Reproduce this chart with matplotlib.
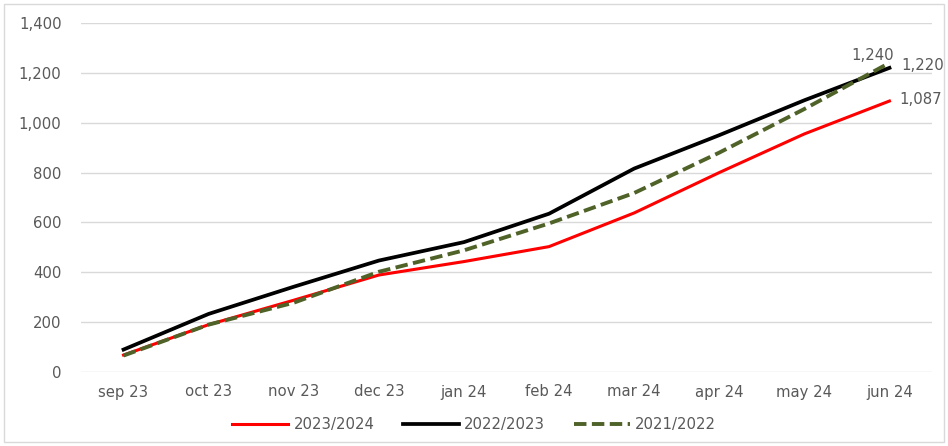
import matplotlib
matplotlib.use("Agg")
import matplotlib.pyplot as plt
from matplotlib.ticker import FuncFormatter, MultipleLocator
from matplotlib.patches import Rectangle

months = ["sep 23", "oct 23", "nov 23", "dec 23", "jan 24", "feb 24",
          "mar 24", "apr 24", "may 24", "jun 24"]
s2023_2024 = [68, 190, 288, 389, 443, 503, 638, 800, 955, 1087]
s2022_2023 = [90, 233, 342, 447, 521, 635, 816, 950, 1090, 1220]
s2021_2022 = [66, 190, 278, 402, 488, 596, 718, 880, 1055, 1240]

plt.rcParams['font.family'] = ['DejaVu Sans']
txt = '#595959'
fs = 10.7

fig = plt.figure(figsize=(9.48, 4.46), dpi=100)
ax = fig.add_axes([81/948, 1-372/446, (932-81)/948, (372-23)/446])

x = list(range(len(months)))
ax.plot(x, s2023_2024, color='#FF0000', lw=2.2, label='2023/2024', zorder=3)
ax.plot(x, s2022_2023, color='black', lw=2.7, label='2022/2023', zorder=4)
ax.plot(x, s2021_2022, color='#4F6228', lw=2.8, ls=(0, (3.2, 1.4)), label='2021/2022', zorder=5)

ax.set_xlim(-0.5, len(months) - 0.5)
ax.set_ylim(0, 1400)
ax.yaxis.set_major_locator(MultipleLocator(200))
ax.yaxis.set_major_formatter(FuncFormatter(lambda v, p: f"{int(v):,}"))
ax.set_xticks(x)
ax.set_xticklabels(months)
ax.grid(axis='y', color='#D9D9D9', lw=1)
ax.set_axisbelow(True)
for s in ax.spines.values():
    s.set_visible(False)
ax.tick_params(axis='both', length=0, colors=txt, labelsize=fs)
ax.tick_params(axis='y', pad=14)
ax.tick_params(axis='x', pad=9)

last = len(months) - 1
ax.annotate(f"{s2021_2022[-1]:,}", (last, s2021_2022[-1]), xytext=(-17, 0),
            textcoords='offset pixels', ha='center', va='bottom', color=txt, fontsize=fs)
ax.annotate(f"{s2022_2023[-1]:,}", (last, s2022_2023[-1]), xytext=(12, 2),
            textcoords='offset pixels', ha='left', va='center', color=txt, fontsize=fs)
ax.annotate(f"{s2023_2024[-1]:,}", (last, s2023_2024[-1]), xytext=(10, 2),
            textcoords='offset pixels', ha='left', va='center', color=txt, fontsize=fs)

leg = fig.legend(loc='center', bbox_to_anchor=(0.5, 1-425/446), ncol=3, frameon=False,
                 fontsize=fs, handlelength=3.8, columnspacing=1.9, handletextpad=0.35)
for t in leg.get_texts():
    t.set_color(txt)

fig.patches.append(Rectangle((4/948, 4/446), 1-8/948, 1-8/446, transform=fig.transFigure,
                             fill=False, edgecolor='#D9D9D9', lw=1))

fig.savefig("out.png", dpi=100)
